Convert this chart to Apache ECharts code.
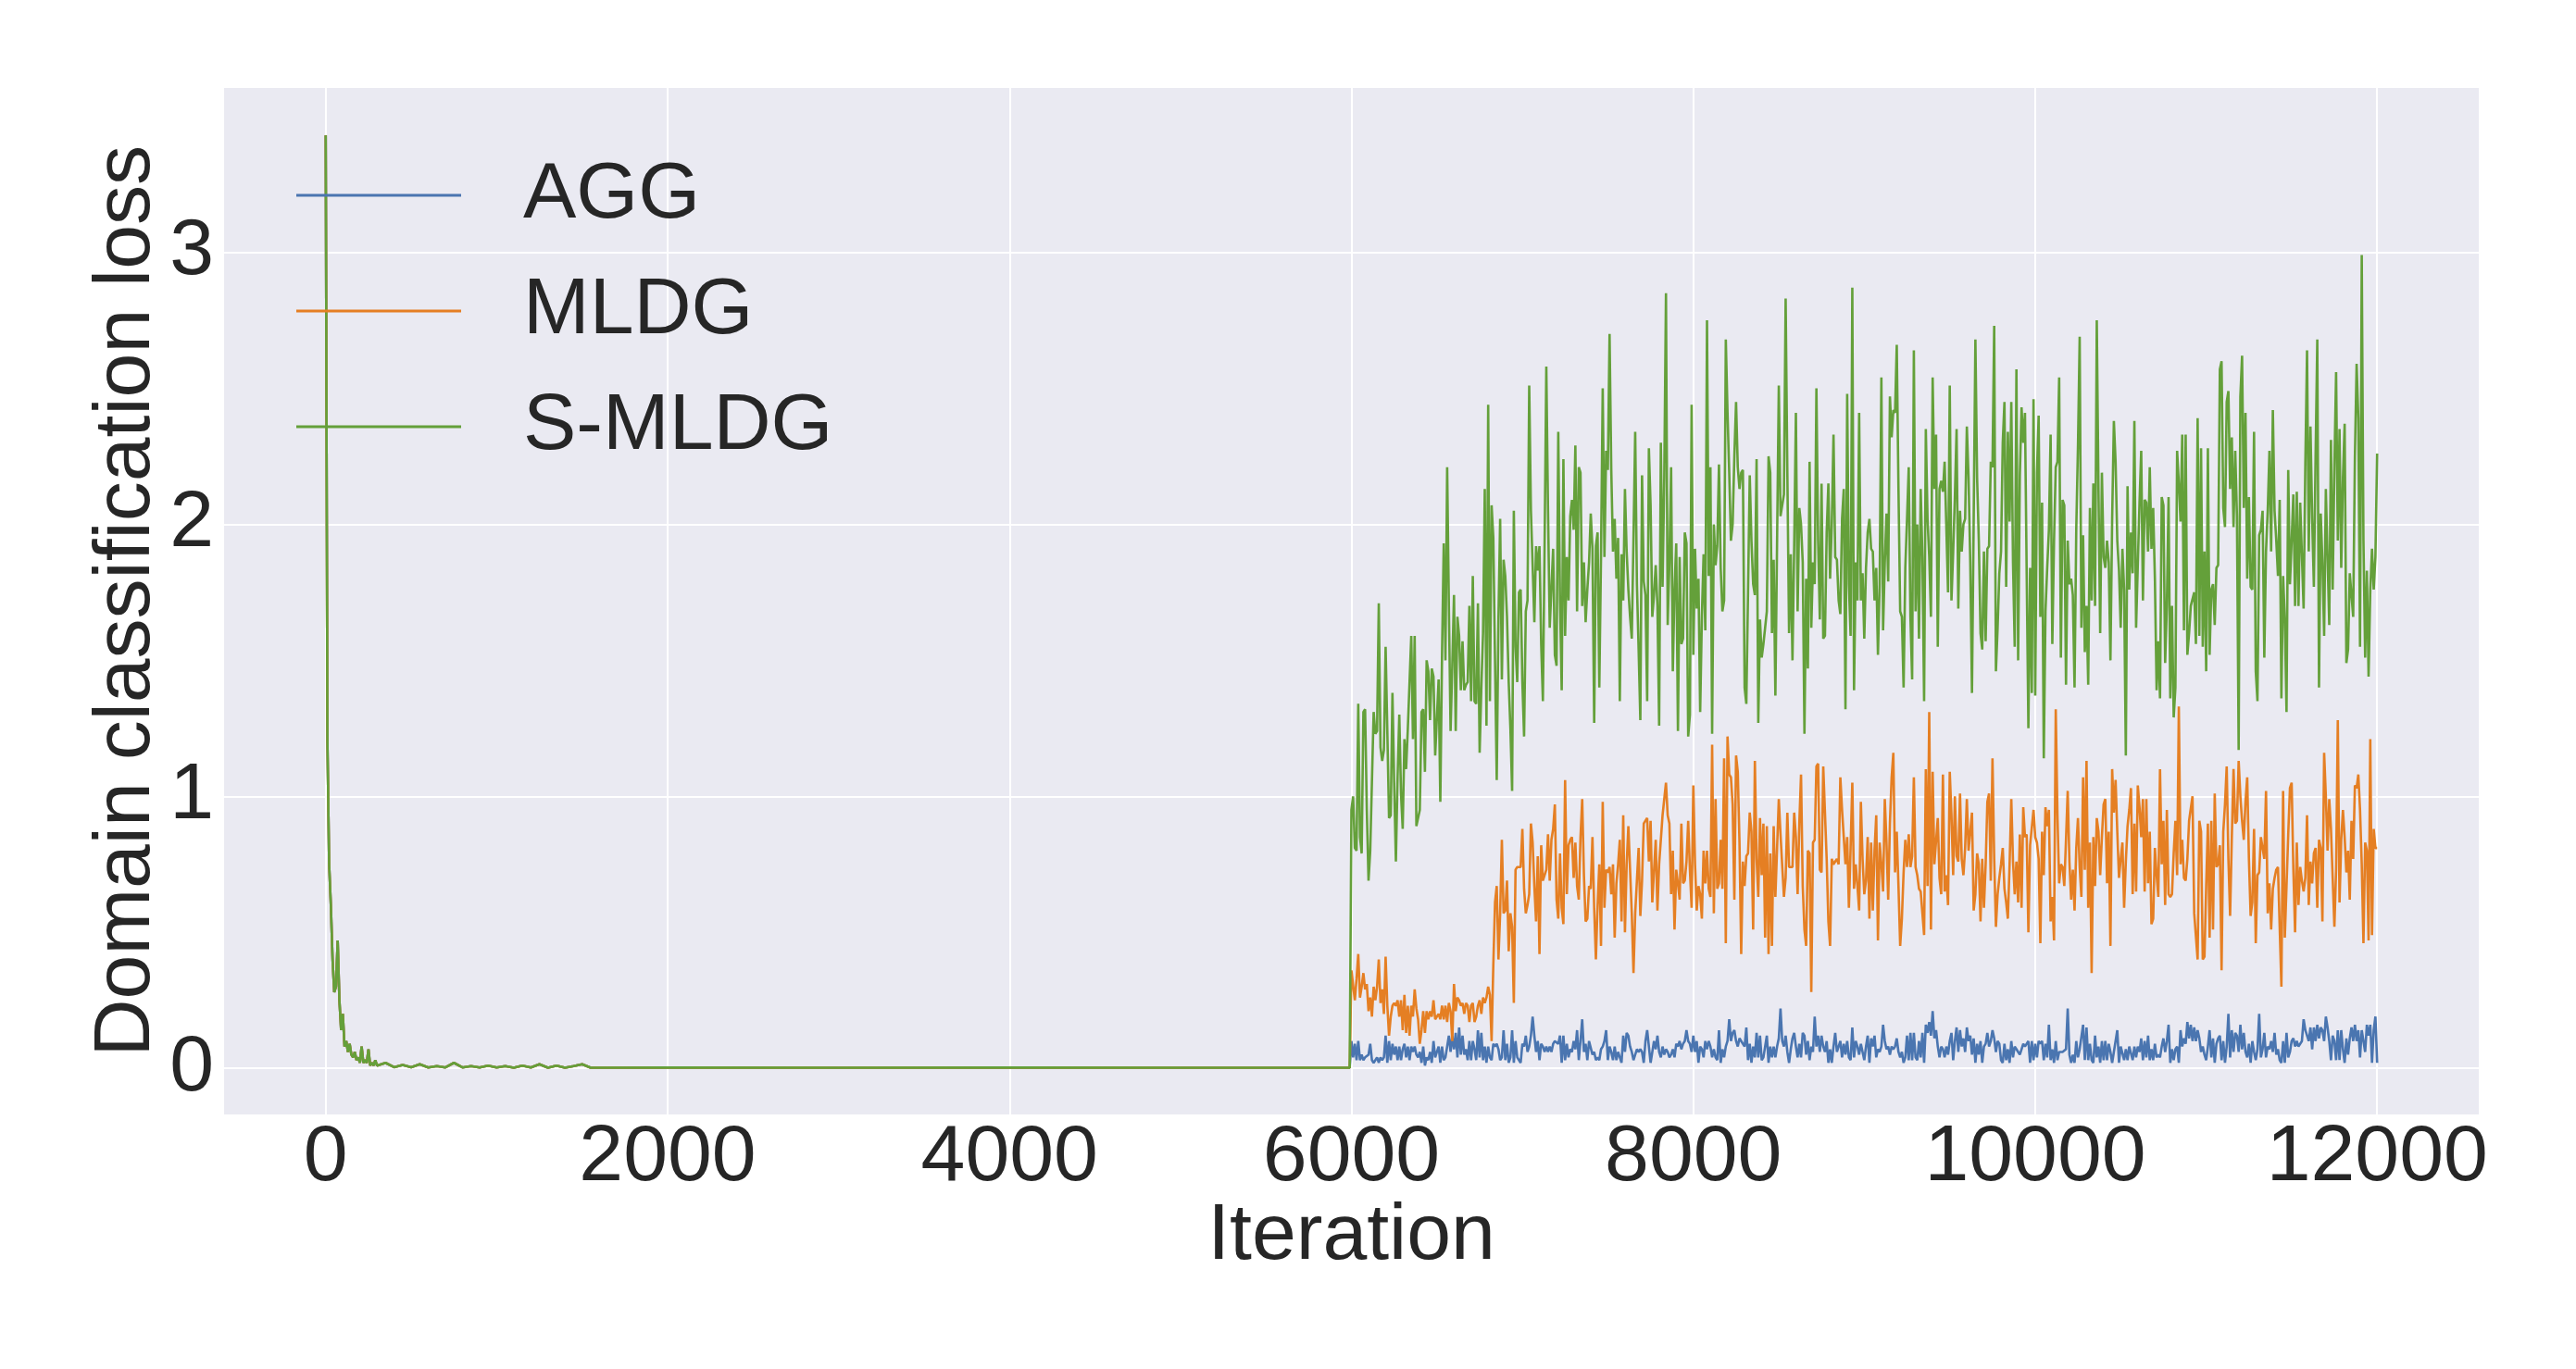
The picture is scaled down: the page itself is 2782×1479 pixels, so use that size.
<!DOCTYPE html>
<html><head><meta charset="utf-8">
<script src="https://cdn.jsdelivr.net/npm/echarts@6/dist/echarts.min.js"></script>
<style>html,body{margin:0;padding:0;background:#fff}#c{width:2782px;height:1479px}</style>
</head><body><div id="c"></div>
<script>
const seriesNames = ['AGG', 'MLDG', 'S-MLDG'];
const seriesColors = ['#4a75b0', '#e57f23', '#64a03a'];

// shared warm-up phase (all three curves coincide, S-MLDG drawn on top)
const earlyIter = [0,10,20,30,40,50,60,70,80,90,100,110,120,130,140,150,160,170,180,190,200,210,220,230,240,250,260,270,280,290,300,
  350,400,450,500,550,600,650,700,750,800,850,900,950,1000,1050,1100,1150,1200,1250,1300,1350,1400,1450,1500,1550,2000,3000,4000,5000,5990];
const earlyLoss = [3.43,1.20,0.75,0.60,0.40,0.28,0.30,0.47,0.25,0.14,0.20,0.08,0.10,0.06,0.09,0.05,0.04,0.06,0.03,0.04,0.02,0.08,0.02,0.03,0.02,0.07,0.01,0.02,0.01,0.03,0.01,
  0.02,0.004,0.012,0.004,0.015,0.003,0.008,0.003,0.02,0.003,0.008,0.003,0.01,0.003,0.008,0.002,0.01,0.003,0.015,0.002,0.01,0.002,0.008,0.015,0.002,0.003,0.002,0.003,0.002,0.002];

// second phase: one value every 10 iterations from 6000 to 12000
const lateStart = 6000;
const lateStep = 10;

const aggLate = [
0.10,0.04,0.09,0.03,0.10,0.03,0.05,0.03,0.04,0.04,0.05,0.09,0.03,0.02,0.02,0.04,0.02,0.04,0.03,0.04,
0.12,0.02,0.10,0.03,0.09,0.05,0.08,0.03,0.08,0.03,0.07,0.09,0.04,0.08,0.03,0.08,0.06,0.08,0.05,0.04,
0.06,0.02,0.08,0.01,0.04,0.03,0.06,0.02,0.10,0.04,0.06,0.08,0.02,0.08,0.03,0.04,0.08,0.12,0.06,0.12,
0.07,0.13,0.04,0.15,0.05,0.12,0.05,0.07,0.03,0.10,0.03,0.10,0.07,0.03,0.14,0.04,
0.13,0.03,0.08,0.02,0.08,0.04,0.03,0.09,0.08,0.09,0.07,0.03,0.04,0.14,0.03,0.09,0.02,0.04,0.14,0.02,
0.10,0.04,0.03,0.02,0.09,0.08,0.12,0.06,0.08,0.12,0.19,0.12,0.06,0.10,0.03,0.09,0.08,0.06,0.08,0.06,
0.08,0.06,0.09,0.10,0.10,0.09,0.12,0.02,0.12,0.03,0.09,0.04,0.07,0.06,0.10,0.07,0.14,0.03,0.10,0.18,
0.06,0.09,0.03,0.10,0.10,0.05,0.06,0.03,0.04,0.03,0.07,0.08,0.10,0.14,0.03,0.08,
0.06,0.03,0.08,0.03,0.06,0.04,0.02,0.12,0.06,0.13,0.12,0.08,0.06,0.03,0.05,0.07,0.06,0.07,0.06,0.02,
0.10,0.14,0.08,0.02,0.06,0.10,0.07,0.12,0.06,0.04,0.08,0.05,0.07,0.06,0.04,0.05,0.07,0.04,0.09,0.08,
0.10,0.07,0.09,0.10,0.14,0.10,0.09,0.06,0.12,0.06,0.10,0.02,0.08,0.07,0.04,0.10,0.07,0.10,0.08,0.04,
0.07,0.04,0.03,0.14,0.02,0.07,0.04,0.08,0.10,0.18,0.10,0.13,0.14,0.10,0.08,0.11,0.10,
0.10,0.08,0.15,0.03,0.09,0.02,0.08,0.04,0.13,0.04,0.12,0.03,0.04,0.08,0.12,0.02,0.08,0.04,0.08,0.04,
0.08,0.11,0.22,0.10,0.08,0.12,0.06,0.02,0.07,0.11,0.13,0.08,0.04,0.09,0.04,0.13,0.12,0.05,0.10,0.03,
0.08,0.06,0.19,0.08,0.12,0.06,0.12,0.08,0.06,0.10,0.02,0.07,0.02,0.08,0.13,0.06,0.08,0.10,0.04,0.09,
0.05,0.10,0.04,0.03,0.15,0.04,0.10,0.08,0.05,0.09,0.06,0.03,0.08,0.12,0.02,0.11,
0.08,0.12,0.04,0.07,0.06,0.08,0.16,0.10,0.07,0.08,0.05,0.08,0.07,0.08,0.11,0.06,0.04,0.06,0.02,0.04,
0.12,0.03,0.13,0.03,0.13,0.04,0.03,0.10,0.04,0.13,0.02,0.16,0.13,0.17,0.12,0.21,0.11,0.14,0.08,0.04,
0.08,0.07,0.04,0.08,0.05,0.10,0.13,0.03,0.10,0.15,0.06,0.14,0.08,0.11,0.06,0.15,0.10,0.12,0.05,0.11,
0.02,0.09,0.05,0.10,0.02,0.08,0.09,0.13,0.08,0.10,0.14,0.11,0.06,0.10,0.09,0.03,
0.02,0.09,0.03,0.07,0.02,0.10,0.04,0.08,0.07,0.06,0.05,0.07,0.09,0.08,0.09,0.10,0.02,0.10,0.03,0.09,
0.04,0.10,0.09,0.10,0.03,0.09,0.04,0.16,0.03,0.07,0.02,0.10,0.03,0.06,0.06,0.06,0.06,0.07,0.22,0.05,
0.02,0.05,0.02,0.10,0.04,0.07,0.07,0.16,0.03,0.15,0.03,0.09,0.03,0.02,0.12,0.04,0.08,0.02,0.10,0.03,
0.10,0.03,0.09,0.06,0.02,0.06,0.10,0.14,0.02,0.08,0.08,0.03,0.07,0.03,0.08,0.08,
0.03,0.08,0.04,0.08,0.06,0.11,0.03,0.10,0.04,0.12,0.03,0.07,0.03,0.09,0.04,0.05,0.04,0.08,0.11,0.06,
0.10,0.16,0.02,0.07,0.03,0.07,0.08,0.02,0.14,0.08,0.11,0.09,0.17,0.11,0.16,0.10,0.15,0.10,0.14,0.11,
0.06,0.08,0.05,0.03,0.08,0.14,0.04,0.11,0.02,0.09,0.11,0.12,0.03,0.10,0.02,0.08,0.20,0.04,0.14,0.06,
0.13,0.12,0.06,0.16,0.07,0.13,0.06,0.04,0.09,0.02,0.10,0.06,0.03,0.07,0.20,0.04,
0.07,0.13,0.04,0.08,0.07,0.10,0.06,0.13,0.05,0.07,0.03,0.02,0.10,0.02,0.13,0.04,0.06,0.10,0.11,0.08,
0.10,0.08,0.08,0.10,0.18,0.14,0.14,0.10,0.15,0.07,0.15,0.10,0.16,0.11,0.15,0.14,0.10,0.19,0.15,0.10,
0.03,0.12,0.10,0.03,0.14,0.03,0.14,0.07,0.02,0.11,0.05,0.11,0.15,0.10,0.16,0.10,0.14,0.04,0.14,0.10,
0.06,0.16,0.12,0.16,0.02,0.14,0.19,0.02];

const mldgLate = [
0.36,0.36,0.25,0.33,0.42,0.26,0.30,0.35,0.29,0.31,0.21,0.26,0.19,0.30,0.25,0.30,0.40,0.24,0.29,0.20,
0.41,0.23,0.12,0.19,0.23,0.24,0.23,0.25,0.19,0.25,0.14,0.27,0.13,0.23,0.12,0.23,0.19,0.29,0.22,0.18,
0.09,0.14,0.21,0.13,0.21,0.18,0.21,0.19,0.25,0.18,0.19,0.20,0.18,0.23,0.18,0.23,0.17,0.24,0.21,0.10,
0.31,0.21,0.26,0.25,0.23,0.24,0.20,0.24,0.23,0.17,0.23,0.24,0.17,0.19,0.23,0.25,
0.20,0.26,0.24,0.26,0.30,0.27,0.10,0.38,0.61,0.67,0.40,0.57,0.84,0.57,0.58,0.69,0.43,0.57,0.52,0.24,
0.73,0.74,0.74,0.74,0.88,0.66,0.57,0.60,0.64,0.90,0.83,0.67,0.54,0.78,0.42,0.82,0.69,0.69,0.73,0.86,
0.69,0.84,0.88,0.97,0.62,0.55,0.79,0.59,0.53,1.06,0.64,0.82,0.84,0.85,0.70,0.83,0.67,0.62,0.85,0.99,
0.71,0.54,0.55,0.67,0.66,0.85,0.59,0.40,0.60,0.75,0.45,0.98,0.59,0.73,0.72,0.74,0.64,
0.75,0.48,0.68,0.75,0.84,0.54,0.93,0.50,0.75,0.89,0.73,0.57,0.35,0.57,0.69,0.81,0.56,0.69,0.90,0.90,
0.92,0.76,0.91,0.61,0.61,0.84,0.58,0.75,0.75,0.93,0.99,1.05,0.93,0.90,0.64,0.80,0.51,0.73,0.68,0.62,
0.90,0.68,0.69,0.76,0.91,0.73,0.59,1.04,0.75,0.58,0.67,0.64,0.55,0.80,0.68,0.80,0.66,0.63,1.19,0.57,
0.99,0.66,0.68,0.84,0.66,1.14,0.46,1.22,1.08,1.07,0.97,0.62,1.15,1.09,0.83,0.42,
0.76,0.67,0.78,0.79,0.94,0.87,0.51,1.13,0.77,0.63,0.92,0.71,0.90,0.48,0.89,0.42,0.79,0.45,0.89,0.63,
0.81,0.99,0.86,0.86,0.63,0.70,0.94,0.74,0.74,0.74,0.94,0.85,0.64,0.90,1.08,0.67,0.51,0.45,0.80,0.79,
0.28,0.83,0.84,1.11,1.12,0.73,0.72,1.11,1.11,0.77,0.54,0.45,0.77,0.75,0.76,0.77,0.75,1.07,0.95,0.85,
0.75,0.85,0.59,0.81,1.05,0.66,0.75,0.67,0.58,0.98,0.77,0.64,0.69,0.85,0.55,0.83,
0.58,0.80,0.93,0.47,0.83,0.75,0.65,0.99,0.83,0.62,0.90,1.07,1.16,0.72,0.87,0.67,0.45,0.55,0.72,0.84,
0.74,0.86,0.74,0.78,1.07,0.74,0.71,0.66,0.65,0.65,0.49,1.10,0.67,1.31,0.51,1.09,0.75,0.75,0.92,0.70,
0.64,1.08,0.65,0.71,0.60,1.09,0.93,0.71,1.00,0.78,0.76,1.01,0.77,0.71,0.81,0.99,0.80,0.87,0.94,0.58,
0.64,0.79,0.75,0.54,0.77,0.59,0.75,0.98,1.01,0.69,1.14,0.77,0.52,0.64,0.70,0.75,
0.81,0.66,0.61,0.55,0.75,0.99,0.76,0.64,0.76,0.61,0.86,0.59,0.96,0.85,0.86,0.50,0.82,0.82,0.95,0.85,
0.83,0.77,0.46,0.87,0.71,0.96,0.89,0.95,0.54,0.63,0.47,1.32,0.93,0.68,0.75,0.74,0.67,0.84,1.02,0.76,
0.62,0.73,0.58,0.81,0.92,0.74,0.63,1.07,0.73,1.13,0.59,0.83,0.35,0.85,0.67,0.92,0.87,0.71,0.85,0.97,
0.99,0.68,0.87,0.45,1.10,0.94,1.06,0.87,0.70,0.77,0.83,0.59,0.76,0.89,0.95,1.03,
0.64,0.90,0.65,1.04,0.96,0.85,0.99,0.65,0.99,0.68,0.87,0.53,0.55,0.81,0.71,0.63,1.10,0.75,0.91,0.60,
0.95,0.64,0.63,0.64,0.79,0.91,0.71,1.33,0.75,0.84,0.70,0.69,0.77,0.91,0.91,1.00,0.57,0.57,0.40,0.91,
0.87,0.40,0.41,0.67,0.90,0.48,0.91,0.51,1.01,0.74,0.75,0.82,0.36,0.87,0.97,1.11,0.77,0.56,0.85,1.10,
0.90,0.91,1.13,1.00,0.91,0.84,0.98,1.07,0.77,0.56,0.61,0.88,0.46,0.71,0.72,0.85,
0.85,0.77,1.02,0.57,0.68,0.51,0.66,0.70,0.73,0.74,0.74,0.30,1.02,0.48,0.67,0.86,1.03,1.05,0.73,0.50,
0.83,0.60,0.74,0.69,0.65,0.70,0.93,0.60,0.76,0.68,0.79,0.81,0.59,0.84,0.81,0.54,1.16,1.00,0.80,0.99,
0.88,0.88,0.52,0.73,1.28,0.61,0.84,0.95,0.85,0.72,0.80,0.62,0.91,0.77,1.04,1.03,1.08,0.95,0.75,0.46,
0.83,0.80,0.47,1.21,0.49,0.88,0.81,0.81];

const smldgLate = [
0.95,1.00,0.81,0.80,1.34,0.85,0.79,1.31,1.32,0.95,0.69,0.80,0.80,1.31,1.23,1.24,1.71,1.18,1.13,1.17,
1.55,1.24,0.92,0.93,1.38,1.05,0.76,1.07,1.30,1.01,0.88,1.21,1.10,1.25,1.25,1.59,1.21,1.59,0.89,0.89,
0.95,1.31,1.32,1.09,1.50,1.46,1.28,1.47,1.44,1.15,1.15,1.43,0.98,1.52,1.93,1.50,2.21,1.70,1.24,1.48,
1.74,1.24,1.66,1.59,1.39,1.57,1.39,1.41,1.42,1.70,1.35,1.81,1.35,1.34,1.71,1.16,
1.40,1.60,2.13,1.26,2.44,1.35,2.07,1.95,1.50,1.06,1.65,2.02,1.43,1.87,1.81,1.66,1.42,1.25,1.02,2.05,
1.55,1.42,1.75,1.76,1.42,1.22,1.68,1.72,2.51,2.05,1.85,1.64,1.92,1.83,1.92,1.56,1.35,1.92,2.58,2.05,
1.62,1.62,1.91,1.52,1.48,2.34,1.72,1.39,2.24,1.59,1.88,1.72,2.03,2.09,1.98,2.29,1.68,2.21,2.19,1.70,
1.86,1.64,1.76,1.86,2.04,1.91,1.27,1.92,1.97,1.40,1.88,2.50,1.88,2.27,2.20,2.70,
2.20,1.90,2.02,1.80,1.95,1.35,1.89,1.72,2.13,1.90,1.76,1.66,1.58,1.95,2.34,1.78,1.54,1.28,2.18,1.79,
1.74,1.35,2.28,2.07,1.66,1.74,1.85,1.70,1.26,2.30,1.77,2.17,2.85,1.63,1.86,2.21,1.46,1.76,1.93,1.24,
1.88,1.56,1.58,1.97,1.93,1.22,1.30,2.44,1.52,1.91,1.69,1.80,1.31,1.66,1.89,1.61,2.75,1.81,2.21,1.23,
2.00,1.85,1.92,2.22,1.84,1.68,1.72,2.68,2.41,2.19,1.94,2.00,2.25,2.45,2.21,2.13,2.19,
2.20,1.40,1.34,1.75,2.18,1.94,1.78,1.74,2.24,1.27,1.65,1.51,1.56,1.62,1.68,2.25,2.19,1.60,1.87,1.37,
1.94,2.51,2.03,2.03,2.11,2.83,2.19,1.60,1.89,1.50,1.92,2.41,1.68,2.06,2.00,1.86,1.23,1.80,1.47,2.23,
1.62,1.86,1.78,2.50,1.94,1.65,2.15,1.58,1.59,1.97,2.15,1.80,2.00,2.33,1.88,1.87,1.72,1.67,2.02,2.13,
1.32,2.48,1.78,1.59,2.87,1.39,1.86,1.72,2.41,1.72,1.82,1.58,1.84,1.97,2.02,1.91,
1.90,1.72,1.84,1.52,1.78,2.54,1.61,1.86,2.04,1.79,2.47,2.32,2.42,2.41,2.66,2.13,1.68,1.66,1.40,1.84,
2.02,2.21,1.66,1.43,2.64,1.68,2.00,1.58,2.13,1.88,1.35,2.35,2.02,1.88,1.66,2.54,2.13,2.33,1.55,2.13,
2.16,2.12,2.23,2.23,1.75,2.51,1.72,1.90,2.10,2.35,1.69,2.05,1.90,2.00,2.02,2.36,2.17,1.86,1.38,2.02,
2.68,2.17,1.94,1.60,1.54,1.90,1.57,1.91,1.92,2.23,2.21,2.73,1.46,1.62,1.82,1.90,
2.30,2.45,1.77,2.34,2.01,2.45,1.86,1.55,2.57,1.50,2.18,2.43,2.30,2.41,1.82,1.25,1.84,1.38,2.46,1.37,
2.19,2.40,1.66,2.08,1.14,1.68,1.84,1.98,2.33,1.56,1.94,2.21,2.23,2.54,1.51,2.09,2.07,1.41,1.94,1.78,
1.80,1.74,1.40,1.98,2.29,2.69,1.62,1.96,1.53,1.70,1.41,2.06,1.72,2.15,1.70,2.75,2.13,1.60,2.19,1.88,
1.84,1.94,1.86,1.50,2.02,2.38,2.23,1.94,1.83,1.62,1.91,1.76,1.15,2.14,1.76,1.97,
1.82,2.38,1.62,1.85,2.08,2.27,1.72,2.09,2.08,1.90,2.21,1.91,2.06,1.80,1.39,1.57,1.36,2.10,2.07,1.49,
1.70,2.10,1.36,1.70,1.29,1.40,2.27,2.15,2.01,2.33,1.61,2.33,1.52,1.60,1.70,1.70,1.75,1.56,2.39,1.59,
2.28,1.55,1.90,1.46,2.28,1.52,1.76,1.78,1.63,1.84,1.85,2.57,2.60,2.06,1.99,2.45,2.49,2.13,2.32,1.99,
2.27,2.03,1.17,2.47,2.62,2.06,2.41,1.80,2.10,1.77,1.76,2.34,1.46,1.35,1.96,1.98,
2.05,1.51,1.90,2.05,2.27,1.90,2.42,2.05,1.94,1.81,2.09,1.36,1.81,1.65,1.31,2.20,1.78,1.94,2.11,1.70,
2.12,1.70,2.08,2.08,1.69,2.22,2.64,1.90,2.36,2.02,1.77,2.25,2.68,1.40,2.04,1.86,1.59,2.13,2.13,1.63,
2.31,1.76,2.21,2.56,1.94,2.35,1.84,2.17,2.37,1.49,1.54,1.82,1.82,1.66,2.25,2.59,2.39,1.55,2.99,1.94,
1.51,1.83,1.44,1.76,1.91,1.76,1.88,2.26];

const xTickValues = [0, 2000, 4000, 6000, 8000, 10000, 12000];
const yTickValues = [0, 1, 2, 3];

function buildSeriesData(late) {
  const pts = earlyIter.map((t, i) => [t, earlyLoss[i]]);
  late.forEach((v, i) => pts.push([lateStart + i * lateStep, v]));
  return pts;
}
const lateByName = { 'AGG': aggLate, 'MLDG': mldgLate, 'S-MLDG': smldgLate };

const textColor = '#262626';
const fontFamily = 'Liberation Sans, Arial, sans-serif';

const chart = echarts.init(document.getElementById('c'), null, { renderer: 'canvas' });
chart.setOption({
  animation: false,
  backgroundColor: '#ffffff',
  textStyle: { fontFamily: fontFamily },
  grid: {
    left: 241, right: 104, top: 94, bottom: 274.5,
    show: true, backgroundColor: '#EAEAF2', borderWidth: 0,
    containLabel: false, outerBoundsMode: 'none'
  },
  legend: {
    orient: 'vertical', left: 315, top: 163,
    icon: 'rect', itemWidth: 178, itemHeight: 3, itemGap: 39,
    textStyle: { fontSize: 86, color: textColor, fontFamily: fontFamily, lineHeight: 86, padding: [0, 0, 0, 62] },
    data: seriesNames
  },
  xAxis: {
    type: 'value', min: -600, max: 12600, splitNumber: 7,
    name: 'Iteration', nameLocation: 'middle', nameGap: 89, nameMoveOverlap: false,
    nameTextStyle: { fontSize: 86, color: textColor, fontFamily: fontFamily },
    axisLine: { show: false }, axisTick: { show: false },
    axisLabel: {
      fontSize: 86, color: textColor, fontFamily: fontFamily, margin: 4,
      showMinLabel: false, showMaxLabel: false,
      formatter: v => xTickValues.some(t => Math.abs(t - v) < 1e-6) ? String(Math.round(v)) : ''
    },
    splitLine: { show: true, lineStyle: { color: '#ffffff', width: 2 } }
  },
  yAxis: {
    type: 'value', min: -0.1715, max: 3.608, splitNumber: 4,
    name: 'Domain classification loss', nameLocation: 'middle', nameGap: 61, nameMoveOverlap: false,
    nameTextStyle: { fontSize: 86, color: textColor, fontFamily: fontFamily },
    axisLine: { show: false }, axisTick: { show: false },
    axisLabel: {
      fontSize: 86, color: textColor, fontFamily: fontFamily, margin: 10,
      showMinLabel: false, showMaxLabel: false,
      formatter: v => yTickValues.some(t => Math.abs(t - v) < 1e-6) ? String(Math.round(v)) : ''
    },
    splitLine: { show: true, lineStyle: { color: '#ffffff', width: 2 } }
  },
  series: seriesNames.map((name, k) => ({
    name: name, type: 'line', showSymbol: false, symbol: 'none',
    sampling: null, smooth: false,
    color: seriesColors[k],
    itemStyle: { color: seriesColors[k] },
    lineStyle: { color: seriesColors[k], width: 2.6 },
    emphasis: { disabled: true },
    data: buildSeriesData(lateByName[name])
  }))
});
</script></body></html>
